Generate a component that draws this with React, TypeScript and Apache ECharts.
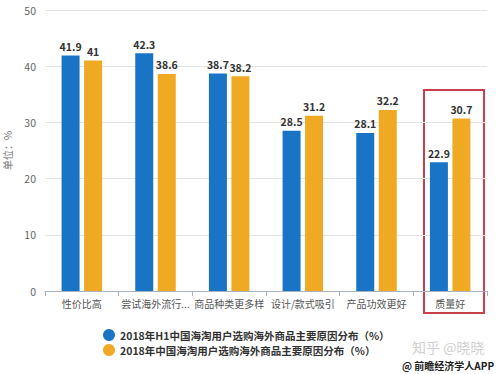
import React, { useEffect, useRef } from "react";
import * as echarts from "echarts";

const categories = ["性价比高", "尝试海外流行...", "商品种类更多样", "设计/款式吸引", "产品功效更好", "质量好"];
const seriesH1 = [41.9, 42.3, 38.7, 28.5, 28.1, 22.9];
const seriesYear = [41, 38.6, 38.2, 31.2, 32.2, 30.7];
const seriesNames = [
  "2018年H1中国海淘用户选购海外商品主要原因分布（%）",
  "2018年中国海淘用户选购海外商品主要原因分布（%）",
];

export default function App() {
  const ref = useRef<HTMLDivElement>(null);
  useEffect(() => {
    if (!ref.current) return;
    const chart = echarts.init(ref.current, null, { renderer: "svg" });
    const font = "'Noto Sans CJK SC', 'Noto Sans', sans-serif";
    chart.setOption({
      animation: false,
      backgroundColor: "#fff",
      textStyle: { fontFamily: font },
      grid: { left: 45, right: 13, top: 10, bottom: 83, outerBoundsMode: "none", containLabel: false },
      legend: {
        orient: "vertical",
        left: 98,
        top: 324,
        itemGap: 3,
        icon: "circle",
        itemWidth: 12,
        itemHeight: 12,
        textStyle: { fontSize: 10.5, fontWeight: "bold", color: "#333", fontFamily: font },
        data: seriesNames,
      },
      xAxis: {
        type: "category",
        data: categories,
        axisLine: { lineStyle: { color: "#aab4c0" } },
        axisTick: { show: true, lineStyle: { color: "#aab4c0" } },
        axisLabel: { color: "#555", fontSize: 10, interval: 0, margin: 7, fontFamily: font },
      },
      yAxis: {
        type: "value",
        min: 0,
        max: 50,
        interval: 10,
        name: "单位：%",
        nameLocation: "middle",
        nameGap: 33,
        nameTextStyle: { color: "#777", fontSize: 10, fontFamily: font },
        axisLine: { show: false },
        axisTick: { show: false },
        axisLabel: { color: "#666", fontSize: 10.5, margin: 9 },
        splitLine: { lineStyle: { color: "#e3e3e3" } },
      },
      series: [
        {
          name: seriesNames[0],
          type: "bar",
          data: seriesH1,
          barWidth: 18,
          barGap: "25%",
          itemStyle: { color: "#1a74c6" },
          label: { show: true, position: "top", fontSize: 10.5, fontWeight: "bold", color: "#333", distance: 4 },
        },
        {
          name: seriesNames[1],
          type: "bar",
          data: seriesYear,
          barWidth: 18,
          itemStyle: { color: "#efa922" },
          label: { show: true, position: "top", fontSize: 10.5, fontWeight: "bold", color: "#333", distance: 4 },
        },
      ],
      graphic: [
        {
          type: "rect",
          shape: { x: 424, y: 90, width: 60, height: 223 },
          style: { fill: "none", stroke: "#c8404a", lineWidth: 2 },
        },
        {
          type: "text",
          x: 412,
          y: 340,
          style: { text: "知乎 @晓晓", fill: "#d0d0d0", fontSize: 14, fontFamily: font },
        },
        {
          type: "text",
          x: 402,
          y: 360,
          style: { text: "@ 前瞻经济学人APP", fill: "#222", fontSize: 10, fontWeight: "bold", fontFamily: font },
        },
      ],
    });
    return () => chart.dispose();
  }, []);
  return <div ref={ref} style={{ width: 500, height: 374, position: "absolute", left: 0, top: 0 }} />;
}
